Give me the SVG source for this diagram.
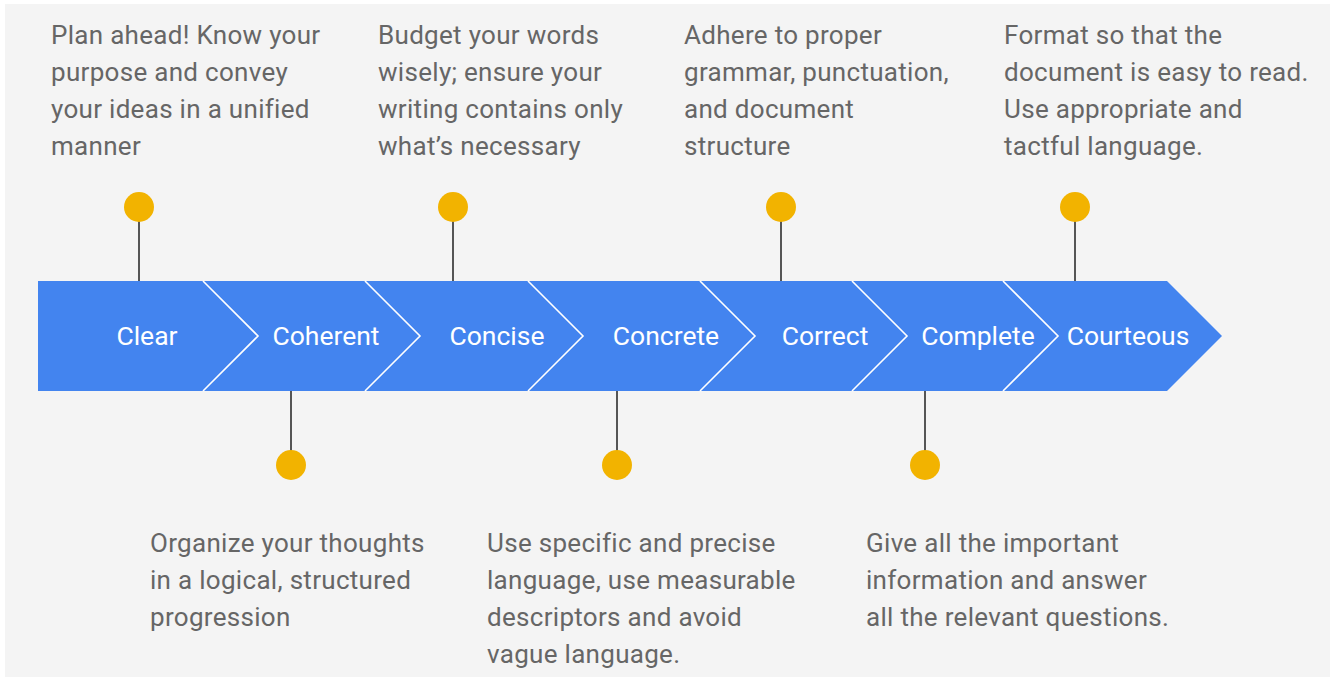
<svg xmlns="http://www.w3.org/2000/svg" width="1334" height="681" viewBox="0 0 1334 681">
<style>
.bg{fill:#f4f4f4}
.chev{fill:#4384ef}
.sep{fill:none;stroke:#ffffff;stroke-width:1.6}
.lbl{font-family:Roboto,"Liberation Sans",sans-serif;font-size:26.5px;fill:#ffffff;text-anchor:middle}
.desc{font-family:Roboto,"Liberation Sans",sans-serif;font-size:26px;letter-spacing:0.3px;fill:#666666}
.stem{stroke:#555555;stroke-width:2}
.dot{fill:#f2b300}
</style>
<rect x="0" y="0" width="1334" height="681" fill="#ffffff"/>
<rect class="bg" x="5" y="4" width="1325" height="673"/>

<g id="nodes">
<g id="clear"><polygon class="chev" points="38,281 203,281 258,336 203,391 38,391"/><text class="lbl" x="147" y="345">Clear</text></g>
<g id="coherent"><polygon class="chev" points="203,281 365,281 420,336 365,391 203,391 258,336"/><text class="lbl" x="326" y="345">Coherent</text></g>
<g id="concise"><polygon class="chev" points="365,281 528,281 583,336 528,391 365,391 420,336"/><text class="lbl" x="497" y="345">Concise</text></g>
<g id="concrete"><polygon class="chev" points="528,281 700,281 755,336 700,391 528,391 583,336"/><text class="lbl" x="666" y="345">Concrete</text></g>
<g id="correct"><polygon class="chev" points="700,281 852,281 907,336 852,391 700,391 755,336"/><text class="lbl" x="825" y="345">Correct</text></g>
<g id="complete"><polygon class="chev" points="852,281 1003,281 1058,336 1003,391 852,391 907,336"/><text class="lbl" x="978" y="345">Complete</text></g>
<g id="courteous"><polygon class="chev" points="1003,281 1167,281 1222,336 1167,391 1003,391 1058,336"/><text class="lbl" x="1128" y="345">Courteous</text></g>
</g>

<g id="separators">
<polyline class="sep" points="203,281 258,336 203,391"/>
<polyline class="sep" points="365,281 420,336 365,391"/>
<polyline class="sep" points="528,281 583,336 528,391"/>
<polyline class="sep" points="700,281 755,336 700,391"/>
<polyline class="sep" points="852,281 907,336 852,391"/>
<polyline class="sep" points="1003,281 1058,336 1003,391"/>
</g>

<g id="connectors">
<line class="stem" x1="139" y1="207" x2="139" y2="281"/>
<line class="stem" x1="453" y1="207" x2="453" y2="281"/>
<line class="stem" x1="781" y1="207" x2="781" y2="281"/>
<line class="stem" x1="1075" y1="207" x2="1075" y2="281"/>
<line class="stem" x1="291" y1="391" x2="291" y2="465"/>
<line class="stem" x1="617" y1="391" x2="617" y2="465"/>
<line class="stem" x1="925" y1="391" x2="925" y2="465"/>
</g>

<g id="pins">
<circle class="dot" cx="139" cy="207" r="15"/>
<circle class="dot" cx="453" cy="207" r="15"/>
<circle class="dot" cx="781" cy="207" r="15"/>
<circle class="dot" cx="1075" cy="207" r="15"/>
<circle class="dot" cx="291" cy="465" r="15"/>
<circle class="dot" cx="617" cy="465" r="15"/>
<circle class="dot" cx="925" cy="465" r="15"/>
</g>

<g id="desc-clear"><text class="desc" x="51" y="44"><tspan x="51">Plan ahead! Know your</tspan><tspan x="51" dy="37">purpose and convey</tspan><tspan x="51" dy="37">your ideas in a unified</tspan><tspan x="51" dy="37">manner</tspan></text></g>
<g id="desc-concise"><text class="desc" x="378" y="44"><tspan x="378">Budget your words</tspan><tspan x="378" dy="37">wisely; ensure your</tspan><tspan x="378" dy="37">writing contains only</tspan><tspan x="378" dy="37">what’s necessary</tspan></text></g>
<g id="desc-correct"><text class="desc" x="684" y="44"><tspan x="684">Adhere to proper</tspan><tspan x="684" dy="37">grammar, punctuation,</tspan><tspan x="684" dy="37">and document</tspan><tspan x="684" dy="37">structure</tspan></text></g>
<g id="desc-courteous"><text class="desc" x="1004" y="44"><tspan x="1004">Format so that the</tspan><tspan x="1004" dy="37">document is easy to read.</tspan><tspan x="1004" dy="37">Use appropriate and</tspan><tspan x="1004" dy="37">tactful language.</tspan></text></g>
<g id="desc-coherent"><text class="desc" x="150" y="552"><tspan x="150">Organize your thoughts</tspan><tspan x="150" dy="37">in a logical, structured</tspan><tspan x="150" dy="37">progression</tspan></text></g>
<g id="desc-concrete"><text class="desc" x="487" y="552"><tspan x="487">Use specific and precise</tspan><tspan x="487" dy="37">language, use measurable</tspan><tspan x="487" dy="37">descriptors and avoid</tspan><tspan x="487" dy="37">vague language.</tspan></text></g>
<g id="desc-complete"><text class="desc" x="866" y="552"><tspan x="866">Give all the important</tspan><tspan x="866" dy="37">information and answer</tspan><tspan x="866" dy="37">all the relevant questions.</tspan></text></g>
</svg>
